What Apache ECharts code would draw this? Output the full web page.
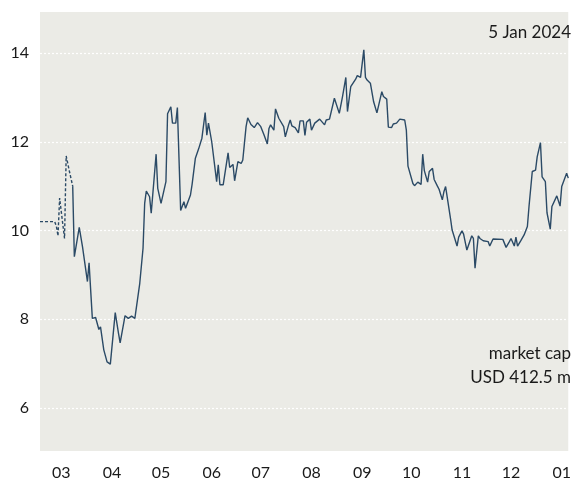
<!DOCTYPE html>
<html>
<head>
<meta charset="utf-8">
<script src="https://cdn.jsdelivr.net/npm/echarts@6/dist/echarts.min.js"></script>
<style>
  html, body { margin: 0; padding: 0; background: #ffffff; }
  #chart { width: 574px; height: 482px; }
</style>
</head>
<body>
<div id="chart"></div>
<script>
// Share price history (USD), dashed segment before the regular series begins
const preDates = ['2023-02-16','2023-02-25','2023-02-26','2023-02-27','2023-02-28','2023-03-03','2023-03-04','2023-03-06','2023-03-08'];
const preValues = [10.2, 10.2, 10.1, 9.88, 10.73, 9.82, 11.68, 11.33, 11.0];

const priceDates = [
  '2023-03-08','2023-03-09','2023-03-12','2023-03-14','2023-03-17','2023-03-18','2023-03-20','2023-03-22','2023-03-23','2023-03-24',
  '2023-03-25','2023-03-27','2023-03-29','2023-03-31','2023-04-01','2023-04-03','2023-04-05','2023-04-06','2023-04-09','2023-04-11',
  '2023-04-13','2023-04-15','2023-04-18','2023-04-20','2023-04-21','2023-04-22','2023-04-24','2023-04-25','2023-04-28','2023-04-29',
  '2023-05-01','2023-05-04','2023-05-05','2023-05-07','2023-05-08','2023-05-10','2023-05-11','2023-05-13','2023-05-15','2023-05-16',
  '2023-05-17','2023-05-19','2023-05-20','2023-05-22','2023-05-24','2023-05-26','2023-05-28','2023-05-29','2023-05-30','2023-06-01',
  '2023-06-02','2023-06-04','2023-06-05','2023-06-06','2023-06-08','2023-06-11','2023-06-12','2023-06-14','2023-06-15','2023-06-17',
  '2023-06-19','2023-06-20','2023-06-22','2023-06-23','2023-06-25','2023-06-27','2023-06-29','2023-07-01','2023-07-03','2023-07-05',
  '2023-07-06','2023-07-07','2023-07-09','2023-07-10','2023-07-12','2023-07-13','2023-07-15','2023-07-16','2023-07-18','2023-07-19',
  '2023-07-20','2023-07-22','2023-07-24','2023-07-25','2023-07-27','2023-07-28','2023-07-29','2023-07-31','2023-08-01','2023-08-03',
  '2023-08-04','2023-08-06','2023-08-07','2023-08-09','2023-08-10','2023-08-12','2023-08-15','2023-08-18','2023-08-20','2023-08-22',
  '2023-08-23','2023-08-25','2023-08-26','2023-08-28','2023-08-29','2023-08-31','2023-09-02','2023-09-03','2023-09-04','2023-09-06',
  '2023-09-08','2023-09-10','2023-09-13','2023-09-14','2023-09-16','2023-09-17','2023-09-19','2023-09-20','2023-09-22','2023-09-24',
  '2023-09-25','2023-09-27','2023-09-28','2023-09-29','2023-09-30','2023-10-02','2023-10-03','2023-10-05','2023-10-07','2023-10-08',
  '2023-10-09','2023-10-11','2023-10-12','2023-10-14','2023-10-15','2023-10-17','2023-10-18','2023-10-20','2023-10-21','2023-10-22',
  '2023-10-23','2023-10-25','2023-10-26','2023-10-27','2023-10-29','2023-10-30','2023-11-01','2023-11-02','2023-11-04','2023-11-05',
  '2023-11-07','2023-11-08','2023-11-09','2023-11-11','2023-11-12','2023-11-13','2023-11-14','2023-11-15','2023-11-17','2023-11-18',
  '2023-11-20','2023-11-21','2023-11-26','2023-11-28','2023-11-30','2023-12-01','2023-12-03','2023-12-04','2023-12-05','2023-12-07',
  '2023-12-09','2023-12-11','2023-12-12','2023-12-14','2023-12-16','2023-12-17','2023-12-19','2023-12-20','2023-12-22','2023-12-23',
  '2023-12-25','2023-12-26','2023-12-29','2023-12-31','2024-01-01','2024-01-02','2024-01-04','2024-01-05'
];
const priceValues = [
  11.0, 9.41, 10.07, 9.63, 8.85, 9.27, 8.02, 8.04, 8.02, 7.77,
  7.83, 7.31, 7.04, 6.99, 7.0, 8.15, 7.68, 7.47, 8.08, 8.02,
  8.07, 8.02, 8.81, 9.6, 10.61, 10.89, 10.76, 10.39, 11.72, 10.95,
  10.61, 11.1, 12.63, 12.79, 12.42, 12.42, 12.77, 10.45, 10.65, 10.5,
  10.48, 10.8, 11.04, 11.63, 11.84, 12.08, 12.66, 12.15, 12.42, 12.0,
  11.99, 11.1, 11.48, 11.03, 11.03, 11.75, 11.42, 11.49, 11.12, 11.55,
  11.51, 11.59, 12.34, 12.54, 12.39, 12.32, 12.43, 12.34, 12.15, 11.95,
  12.3, 12.38, 12.26, 12.74, 12.53, 12.51, 12.34, 12.11, 12.38, 12.49,
  12.36, 12.32, 12.2, 12.47, 12.47, 12.14, 12.44, 12.51, 12.26, 12.42,
  12.41, 12.51, 12.49, 12.38, 12.49, 12.51, 12.98, 12.64, 13.02, 13.45,
  12.68, 13.24, 13.23, 13.41, 13.49, 13.45, 14.07, 13.45, 13.39, 13.32,
  12.9, 12.65, 13.13, 13.02, 12.96, 12.33, 12.32, 12.4, 12.42, 12.51,
  12.51, 12.49, 12.26, 11.45, 11.44, 11.06, 11.01, 11.09, 11.04, 11.72,
  11.35, 11.09, 11.33, 11.4, 11.15, 11.0, 10.93, 10.69, 10.88, 10.99,
  10.97, 10.27, 10.01, 9.99, 9.65, 9.85, 9.99, 9.92, 9.56, 9.55,
  9.88, 9.82, 9.15, 9.88, 9.82, 9.85, 9.77, 9.8, 9.75, 9.65,
  9.81, 9.81, 9.8, 9.62, 9.75, 9.82, 9.65, 9.85, 9.65, 9.77,
  9.9, 10.09, 10.54, 11.33, 11.36, 11.66, 11.98, 11.21, 11.1, 10.4,
  10.03, 10.54, 10.78, 10.55, 10.99, 11.0, 11.29, 11.18
];

const yTicks = [6, 8, 10, 12, 14];
const dateLabel = '5 Jan 2024';
const capLabel = ['market cap', 'USD 412.5 m'];

const FONT = 'Lato, "Noto Sans", sans-serif';
const LINE = '#2b4a66';
const TEXT = '#1a1a1a';

const chart = echarts.init(document.getElementById('chart'), null, { renderer: 'canvas' });

const pair = (d, v) => d.map((t, i) => [t, v[i]]);

chart.setOption({
  animation: false,
  backgroundColor: '#ffffff',
  grid: {
    left: 40, right: 0, top: 12, bottom: 31,
    show: true, backgroundColor: '#ebebe6', borderWidth: 0
  },
  xAxis: {
    type: 'time',
    min: '2023-02-16',
    max: '2024-01-05',
    minInterval: 28 * 86400000,
    maxInterval: 31 * 86400000,
    axisLine: { show: false },
    axisTick: { show: false },
    splitLine: { show: false },
    axisLabel: {
      margin: 14,
      fontFamily: FONT,
      fontSize: 16,
      color: TEXT,
      hideOverlap: false,
      showMinLabel: false,
      showMaxLabel: false,
      formatter: (val) => String(new Date(val).getMonth() + 1).padStart(2, '0')
    }
  },
  yAxis: {
    type: 'value',
    min: 5.031,
    max: 14.924,
    axisLine: { show: false },
    axisTick: { show: false },
    axisLabel: {
      margin: 11,
      fontFamily: FONT,
      fontSize: 16,
      color: TEXT,
      formatter: (v) => (yTicks.indexOf(Math.round(v * 1000) / 1000) >= 0 ? String(v) : '')
    },
    splitLine: {
      show: true,
      showMinLine: false,
      showMaxLine: false,
      lineStyle: { color: '#ffffff', width: 1.2, type: [2, 2] }
    }
  },
  series: [
    {
      type: 'line',
      data: pair(preDates, preValues),
      showSymbol: false,
      lineStyle: { color: LINE, width: 1.4, type: [3, 2] }
    },
    {
      type: 'line',
      data: pair(priceDates, priceValues),
      showSymbol: false,
      lineStyle: { color: LINE, width: 1.4 }
    }
  ],
  graphic: [
    {
      type: 'text', right: 3, top: 24,
      style: { text: dateLabel, font: '17px ' + FONT, fill: TEXT, textAlign: 'right' }
    },
    {
      type: 'text', right: 3, top: 342,
      style: { text: capLabel.join('\n'), font: '17px ' + FONT, fill: TEXT, textAlign: 'right', lineHeight: 24 }
    }
  ]
});
</script>
</body>
</html>
